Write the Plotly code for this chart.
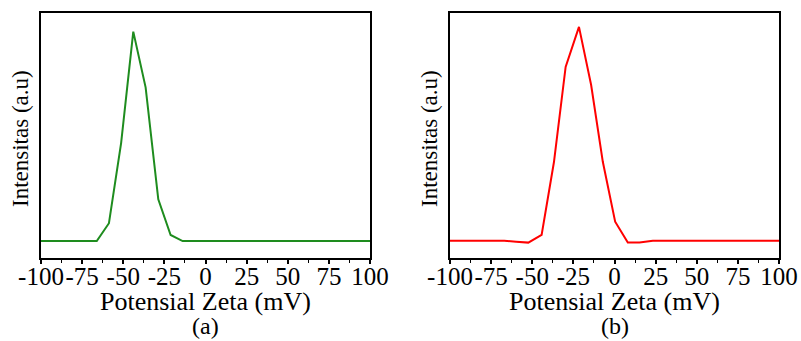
import plotly.graph_objects as go

# ---- data ----
zeta_a = [-100, -66.1, -58.7, -51.3, -43.9, -36.4, -28.7, -21.2, -13.9, 100]
inten_a = [0, 0, 8.5, 46.8, 100, 73.4, 19.9, 2.9, 0, 0]

zeta_b = [-100, -67.0, -59.8, -52.4, -44.3, -36.8, -29.7, -21.6, -14.2, -7.1, 0.4, 8.1, 15.2, 23.3, 100]
inten_b = [0, 0, -0.5, -0.9, 2.7, 36.8, 81.3, 100, 72.8, 36.9, 8.9, -0.9, -0.9, 0, 0]

tick_vals = [-100, -75, -50, -25, 0, 25, 50, 75, 100]
tick_labels = ["-100", "-75", "-50", "-25", "0", "25", "50", "75", "100"]

x_title = "Potensial Zeta (mV)"
y_title = "Intensitas (a.u)"
panel_labels = ["(a)", "(b)"]

W, H = 801, 341
FONT = "Liberation Serif, Times New Roman, serif"

fig = go.Figure()
fig.add_trace(go.Scatter(x=zeta_a, y=inten_a, mode="lines",
                         line=dict(color="rgb(30,140,30)", width=2),
                         xaxis="x", yaxis="y", showlegend=False))
fig.add_trace(go.Scatter(x=zeta_b, y=inten_b, mode="lines",
                         line=dict(color="rgb(255,0,0)", width=2),
                         xaxis="x2", yaxis="y2", showlegend=False))

# frame geometry in pixels
left_dom = [41 / W, 370 / W]
right_dom = [450 / W, 779 / W]
y_dom = [1 - 258 / H, 1 - 13 / H]

xcommon = dict(range=[-100, 100], tickmode="array", tickvals=tick_vals, ticktext=tick_labels,
               tickangle=0, automargin=False, ticklabelstandoff=-9,
               ticks="outside", ticklen=4, tickwidth=1.5, tickcolor="black",
               minor=dict(dtick=12.5, tick0=-100, ticks="outside", ticklen=3, tickwidth=1.2, tickcolor="black"),
               showline=True, linewidth=2, linecolor="black", mirror=True,
               showgrid=False, zeroline=False,
               tickfont=dict(family=FONT, size=25, color="black"))
ycommon = dict(showticklabels=False, ticks="", showline=True, linewidth=2, linecolor="black",
               mirror=True, showgrid=False, zeroline=False, domain=y_dom, automargin=False)

annotations = []
for dom, lab in [(left_dom, panel_labels[0]), (right_dom, panel_labels[1])]:
    cx = (dom[0] + dom[1]) / 2
    annotations.append(dict(text=x_title, x=cx, y=1 - 301 / H, xref="paper", yref="paper",
                            xanchor="center", yanchor="middle", showarrow=False,
                            font=dict(family=FONT, size=26, color="black")))
    annotations.append(dict(text=lab, x=cx, y=0, xref="paper", yref="paper",
                            xanchor="center", yanchor="bottom", showarrow=False,
                            font=dict(family=FONT, size=24, color="black")))
    annotations.append(dict(text=y_title, x=dom[0] - 21 / W, y=1 - 139 / H, xref="paper", yref="paper",
                            xanchor="center", yanchor="middle", showarrow=False, textangle=-90,
                            font=dict(family=FONT, size=23, color="black")))

fig.update_layout(
    width=W, height=H, margin=dict(l=0, r=0, t=0, b=0),
    paper_bgcolor="white", plot_bgcolor="white",
    xaxis=dict(domain=left_dom, anchor="y", **xcommon),
    yaxis=dict(anchor="x", range=[-8.1, 108.9], **ycommon),
    xaxis2=dict(domain=right_dom, anchor="y2", **xcommon),
    yaxis2=dict(anchor="x2", range=[-8.1, 106.5], **ycommon),
    annotations=annotations,
)

fig.write_html("out.html")
